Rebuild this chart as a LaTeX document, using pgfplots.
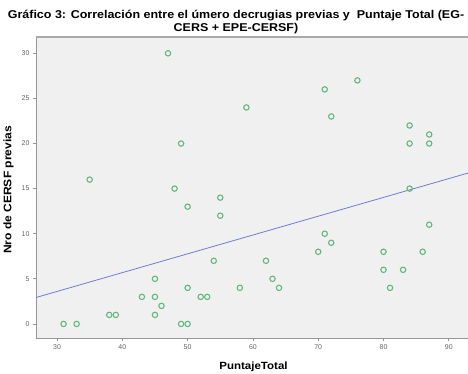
\documentclass[border=0pt]{standalone}
\usepackage{pgfplots}
\pgfplotsset{compat=1.18}
\usepackage{fontspec}
\setmainfont{Liberation Sans}
\definecolor{bggray}{RGB}{240,240,240}
\definecolor{framegray}{RGB}{150,150,150}
\definecolor{topgray}{RGB}{170,170,170}
\definecolor{ptgreen}{RGB}{95,185,125}
\definecolor{fitblue}{RGB}{110,125,205}
\definecolor{ticktxt}{RGB}{100,100,100}
\begin{document}
\begin{tikzpicture}[x=1bp,y=1bp]
\path[use as bounding box] (0,0) rectangle (468,373);
\begin{axis}[
  at={(36bp,35bp)}, anchor=south west,
  scale only axis, width=434bp, height=301bp,
  xmin=26.78, xmax=93.25, ymin=-1.56, ymax=31.81,
  axis background/.style={fill=bggray},
  axis x line*=bottom, axis y line*=left,
  axis line style={framegray, line width=0.9pt},
  x axis line style={-}, y axis line style={-},
  xtick={30,40,...,90}, ytick={0,5,...,30},
  tick align=outside, major tick length=3bp,
  tick style={framegray, line width=0.7pt},
  tick label style={font=\fontsize{7}{8}\selectfont, text=ticktxt},
  /pgf/number format/assume math mode=true,
  xticklabel style={yshift=-0.5bp},
  clip=false,
]
\addplot[only marks, mark=o, mark size=2.7bp, mark options={ptgreen, line width=1.1pt}] coordinates {
(47,30) (76,27) (71,26) (59,24) (72,23) (84,22) (87,21) (49,20) (84,20) (87,20)
(35,16) (48,15) (84,15) (55,14) (50,13) (55,12) (87,11) (71,10) (72,9) (70,8)
(80,8) (86,8) (54,7) (62,7) (80,6) (83,6) (45,5) (63,5) (50,4) (58,4) (64,4)
(81,4) (43,3) (45,3) (52,3) (53,3) (46,2) (38,1) (39,1) (45,1) (31,0) (33,0)
(49,0) (50,0)
};
\addplot[fitblue, line width=0.8pt] coordinates {(26.78,2.93) (93.25,16.79)};
\end{axis}
\draw[topgray, line width=2bp] (36,336.5) -- (470,336.5);
\node[font=\bfseries\fontsize{11.4}{12.5}\selectfont, align=center, xscale=1.1, transform shape] at (236,351) {Gráfico 3: Correlación entre el úmero decrugias previas y\ \ Puntaje Total (EG-\\CERS + EPE-CERSF)};
\node[font=\bfseries\fontsize{11}{12}\selectfont, rotate=90, xscale=1.1, transform shape] at (8.5,183) {Nro de CERSF previas};
\node[font=\bfseries\fontsize{10.5}{12}\selectfont, xscale=1.1, transform shape] at (253.5,6.5) {PuntajeTotal};
\end{tikzpicture}
\end{document}
